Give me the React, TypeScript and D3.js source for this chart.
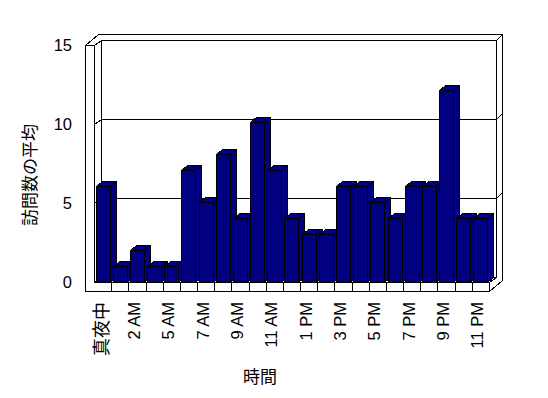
import React from 'react';
import * as d3 from 'd3';

// hourly averages (one hour is missing in the source data, so 23 categories)
const hours = [
  '真夜中', '1 AM', '2 AM', '4 AM', '5 AM', '6 AM', '7 AM', '8 AM', '9 AM', '10 AM', '11 AM', '正午',
  '1 PM', '2 PM', '3 PM', '4 PM', '5 PM', '6 PM', '7 PM', '8 PM', '9 PM', '10 PM', '11 PM',
];
const visits = [6, 1, 2, 1, 1, 7, 5, 8, 4, 10, 7, 4, 3, 3, 6, 6, 5, 4, 6, 6, 12, 4, 4];
const yTicks = [0, 5, 10, 15];
const gridValues = [5, 10];

const W = 548;
const H = 398;

// front plane of the plot
const left = 94;
const right = 489;
const floorY = 282;
// depth of the plot (front -> back wall) and of the walls
const depth = { dx: 7, dy: -5 };
const wallT = { dx: 6, dy: -6 };
const barDepth = { dx: 6, dy: -5 };

const NAVY = '#000080';
const latin = '"Liberation Sans", Arial, "Noto Sans CJK JP", sans-serif';
const cjk = '"Noto Sans CJK JP", "Liberation Sans", sans-serif';

// half-pixel shift keeps 1px strokes sharp
const pts = (p: number[][]) => p.map(d => `${d[0] + 0.5},${d[1] + 0.5}`).join(' ');

export default function App() {
  const x = d3.scaleBand<number>()
    .domain(d3.range(hours.length))
    .range([left, right])
    .paddingInner(0.18)
    .paddingOuter(0.09);
  const step = x.step();
  const yAxis = d3.scaleLinear().domain([0, 15]).range([floorY, 45]);
  const yBar = d3.scaleLinear().domain([0, 15]).range([floorY, 42]);

  const top = yAxis(15);
  const bx0 = left + depth.dx; // back wall front face left
  const bx1 = right + depth.dx;
  const byTop = top + depth.dy;
  const byBot = floorY + depth.dy;
  const outerDx = depth.dx + wallT.dx;
  const outerDy = depth.dy + wallT.dy;
  const wallL = left - 9;
  const floorB = floorY + 9;

  return (
    <svg width={W} height={H} style={{ position: 'absolute', left: 0, top: 0, background: '#fff' }}>
      <g shapeRendering="crispEdges">
        <g fill="#fff" stroke="#000" strokeWidth={1}>
          {/* back wall front face */}
          <polygon points={pts([[bx0, byTop], [bx1, byTop], [bx1, byBot], [bx0, byBot]])} />
          {/* left wall inner face */}
          <polygon points={pts([[left, top], [bx0, byTop], [bx0, byBot], [left, floorY]])} />
          {/* top of the walls */}
          <polygon points={pts([[wallL, top], [left, top], [bx0, byTop], [bx1, byTop],
            [right + outerDx, top + outerDy], [wallL + outerDx, top + outerDy]])} />
          {/* right side of the back wall and floor */}
          <polygon points={pts([[bx1, byTop], [right + outerDx, top + outerDy],
            [right + outerDx, floorB + outerDy], [right, floorB], [right, floorY], [bx1, byBot]])} />
          {/* floor top */}
          <polygon points={pts([[left, floorY], [right, floorY], [bx1, byBot], [bx0, byBot]])} />
        </g>

        {/* gridlines */}
        <g stroke="#000" strokeWidth={1} fill="none">
          {gridValues.map(v => {
            const fy = Math.round(yAxis(v));
            return (
              <polyline key={v} points={pts([[wallL, fy], [left, fy], [bx0, fy + depth.dy],
                [bx1, fy + depth.dy], [right + outerDx, fy + outerDy]])} />
            );
          })}
        </g>

        {/* columns */}
        <g stroke="#000" strokeWidth={1} fill={NAVY}>
          {visits.map((v, i) => {
            const x0 = Math.round(x(i) as number);
            const x1 = x0 + Math.round(x.bandwidth());
            const y = Math.round(yBar(v));
            return (
              <g key={i}>
                <polygon points={pts([[x1, y], [x1 + barDepth.dx, y + barDepth.dy],
                  [x1 + barDepth.dx, floorY + barDepth.dy], [x1, floorY]])} />
                <polygon points={pts([[x0, y], [x0 + barDepth.dx, y + barDepth.dy],
                  [x1 + barDepth.dx, y + barDepth.dy], [x1, y]])} />
                <polygon points={pts([[x0, y], [x1, y], [x1, floorY], [x0, floorY]])} />
              </g>
            );
          })}
        </g>

        {/* front faces of left wall and floor */}
        <polygon
          points={pts([[wallL, top], [left, top], [left, floorY], [right, floorY], [right, floorB], [wallL, floorB]])}
          fill="#fff" stroke="#000" strokeWidth={1}
        />
        <g stroke="#000" strokeWidth={1}>
          {hours.slice(1).map((_, i) => {
            const xx = Math.round(left + step * (i + 1)) + 0.5;
            return <line key={i} x1={xx} x2={xx} y1={floorY} y2={floorB} />;
          })}
        </g>
      </g>

      {/* y tick labels */}
      <g fontFamily={latin} fontSize={16.5} fill="#000" textAnchor="end">
        {yTicks.map(t => (
          <text key={t} x={72} y={yAxis(t)} dominantBaseline="central">{t}</text>
        ))}
      </g>

      {/* x tick labels, every other hour */}
      <g fill="#000" textAnchor="end">
        {hours.map((h, i) => {
          if (i % 2 !== 0) return null;
          const cx = left + step * (i + 0.5) - 3;
          const isCjk = /[^\x00-\x7f]/.test(h);
          return (
            <text
              key={h}
              transform={`translate(${cx},302) rotate(-90)`}
              dominantBaseline="central"
              fontFamily={isCjk ? cjk : latin}
              fontSize={isCjk ? 18 : 16.5}
            >
              {h}
            </text>
          );
        })}
      </g>

      {/* axis titles */}
      <text
        transform="translate(28,175) rotate(-90)"
        textAnchor="middle"
        dominantBaseline="central"
        fontFamily={cjk}
        fontSize={17}
      >
        訪問数の平均
      </text>
      <text x={260} y={375} textAnchor="middle" dominantBaseline="central" fontFamily={cjk} fontSize={17}>
        時間
      </text>
    </svg>
  );
}
